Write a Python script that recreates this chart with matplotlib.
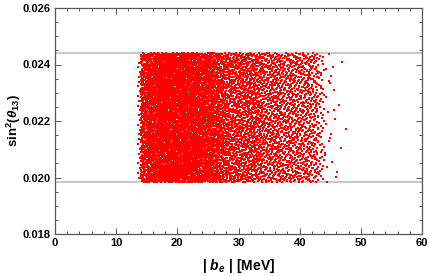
import numpy as np
import matplotlib
matplotlib.use("Agg")
import matplotlib.pyplot as plt
from matplotlib.ticker import MultipleLocator, FormatStrFormatter

# ---- data ----
# number of scan points per 1 MeV bin of |b_e| (left edge of each bin)
bin_left = [13, 14, 15, 16, 17, 18, 19, 20, 21, 22, 23, 24, 25, 26, 27, 28, 29, 30,
            31, 32, 33, 34, 35, 36, 37, 38, 39, 40, 41, 42, 43, 44, 45, 46, 47]
bin_count = [25, 280, 370, 390, 400, 400, 400, 395, 385, 370, 355, 335, 315, 290, 265,
             245, 225, 212, 202, 192, 182, 174, 166, 158, 150, 145, 140, 138, 132, 115, 55, 14, 8, 4, 1]
# sin^2(theta13) allowed band (grey lines)
band_low = 0.01983
band_high = 0.02441
x_edge_start = 13.5   # leftmost point
# axis ranges and ticks
xlim = (0, 60)
ylim = (0.018, 0.026)
xticks = [0, 10, 20, 30, 40, 50, 60]
yticks = [0.018, 0.020, 0.022, 0.024, 0.026]


def halton(i, b):
    f, r = 1.0, 0.0
    while i > 0:
        f /= b
        r += f * (i % b)
        i //= b
    return r


# place points deterministically (low-discrepancy) inside each bin
xs, ys = [], []
k = 1
for left, n in zip(bin_left, bin_count):
    lo = max(left, x_edge_start)
    hi = left + 1
    for _ in range(n):
        xs.append(lo + (hi - lo) * halton(k, 2))
        ys.append(band_low + (band_high - band_low) * halton(k, 3))
        k += 1
xs = np.array(xs)
ys = np.array(ys)

plt.rcParams['font.family'] = ['Liberation Sans', 'DejaVu Sans']
plt.rcParams['mathtext.fontset'] = 'custom'
plt.rcParams['mathtext.rm'] = 'Liberation Sans:bold'
plt.rcParams['mathtext.it'] = 'Liberation Sans:bold:italic'
plt.rcParams['mathtext.bf'] = 'Liberation Sans:bold'

fig = plt.figure(figsize=(4.29, 2.76), dpi=100)
ax = fig.add_axes([55 / 429, 1 - 234 / 276, (422 - 55) / 429, (234 - 8) / 276])

ax.axhline(band_high, color='#bdbdbd', lw=1.2, zorder=1)
ax.axhline(band_low, color='#bdbdbd', lw=1.2, zorder=1)
ax.scatter(xs, ys, s=2.6, marker='s', color='#ff0000', linewidths=0, zorder=2)

ax.set_xlim(*xlim)
ax.set_ylim(*ylim)
ax.set_xticks(xticks)
ax.set_yticks(yticks)
ax.xaxis.set_minor_locator(MultipleLocator(2))
ax.yaxis.set_minor_locator(MultipleLocator(0.0005))
ax.yaxis.set_major_formatter(FormatStrFormatter('%.3f'))

frame_col = '#555555'
for sp in ax.spines.values():
    sp.set_color(frame_col)
    sp.set_linewidth(0.9)
ax.tick_params(which='both', direction='in', top=True, right=True,
               color=frame_col, width=0.7, labelsize=8, labelcolor='black', pad=3)
ax.tick_params(which='major', length=4)
ax.tick_params(which='minor', length=2)
for lab in ax.get_xticklabels() + ax.get_yticklabels():
    lab.set_fontweight('bold')

ax.set_xlabel(r'$|\ b_e\ |$ [MeV]', fontsize=10, fontweight='bold')
ax.set_ylabel(r'sin$^2$($\theta_{13}$)', fontsize=9.5, fontweight='bold')
ax.xaxis.set_label_coords(0.5, -0.1)
ax.yaxis.set_label_coords(-0.088, 0.5)

fig.savefig('out.png', dpi=100)
